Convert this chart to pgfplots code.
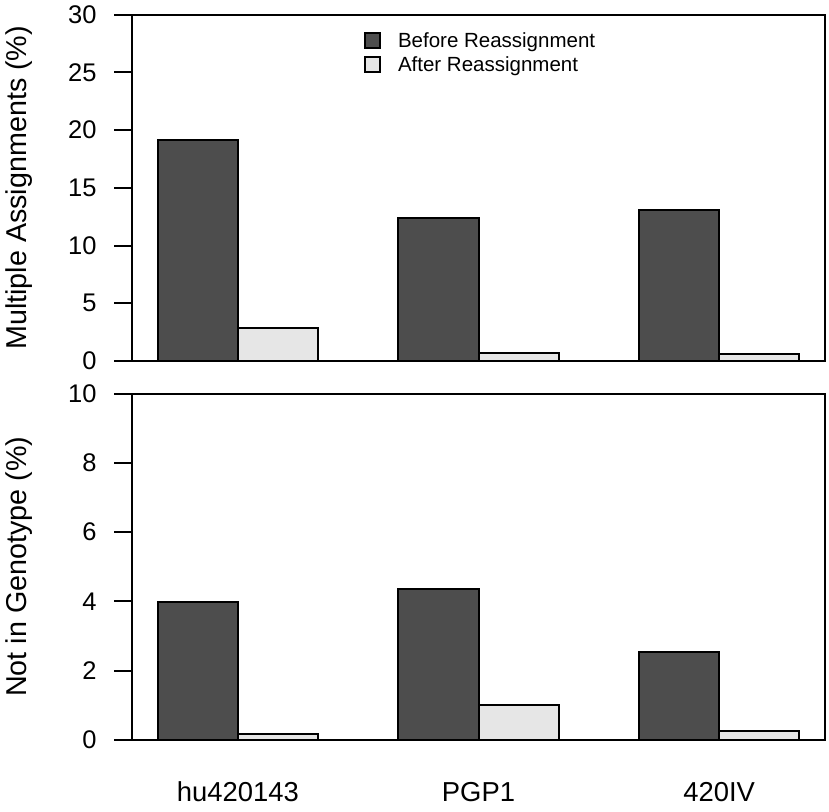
\documentclass[border=0pt]{standalone}
\usepackage{pgfplots}
\pgfplotsset{compat=1.18}
\usepackage{fontspec}
\setmainfont{Liberation Sans}
\definecolor{darkbar}{RGB}{77,77,77}
\definecolor{lightbar}{RGB}{230,230,230}
\pgfplotsset{
  myaxis/.style={
    scale only axis, width=693pt, height=346.3pt,
    anchor=south west,
    xmin=0.68, xmax=9.32,
    axis line style={line width=2pt},
    every tick/.style={black, line width=2pt},
    tick align=outside, major tick length=18pt,
    ytick pos=left,
    xtick={2,5,8}, xtick style={draw=none},
    /pgf/number format/assume math mode=true,
    yticklabel style={font=\fontsize{25.5}{25.5}\selectfont, anchor=east, inner sep=0pt, xshift=-17.3pt},
    xticklabel style={font=\fontsize{27.4}{27.4}\selectfont, anchor=base, inner sep=0pt, yshift=-43.7pt},
    label style={font=\fontsize{28.7}{28.7}\selectfont},
    ylabel style={at={(axis description cs:-0.152,0.5)}, anchor=base},
  },
  mybar/.style={ybar, bar width=1, bar shift=0pt, draw=black, line width=2pt,
    legend image code/.code={\draw[##1, line width=1.6pt] (0pt,-6pt) rectangle (15pt,9pt); \path[draw=none,fill=none] (0pt,0pt) -- (33pt,0pt);}},
}
\begin{document}
\begin{tikzpicture}
\path[use as bounding box] (0,0) rectangle (829pt,811pt);
\begin{axis}[myaxis, at={(132pt,450pt)},
  ymin=0, ymax=30, ytick={0,5,10,15,20,25,30},
  xticklabels={},
  ylabel={Multiple Assignments (\%)},
  legend style={at={(axis description cs:0.3348,0.950)}, anchor=north west,
    draw=none, fill=none, inner sep=0pt,
    font=\fontsize{20.5}{24}\selectfont,
    nodes={inner sep=0pt, text height=15pt, text depth=5pt},
    row sep=4pt},
  legend cell align=left]
\addplot[mybar, fill=darkbar] coordinates {(1.5,19.13) (4.5,12.35) (7.5,13.04)};
\addlegendentry{Before Reassignment}
\addplot[mybar, fill=lightbar] coordinates {(2.5,2.85) (5.5,0.70) (8.5,0.60)};
\addlegendentry{After Reassignment}
\end{axis}
\begin{axis}[myaxis, at={(132pt,71pt)},
  ymin=0, ymax=10, ytick={0,2,4,6,8,10},
  xticklabels={hu420143, PGP1, 420IV},
  ylabel={Not in Genotype (\%)}]
\addplot[mybar, fill=darkbar] coordinates {(1.5,3.98) (4.5,4.35) (7.5,2.55)};
\addplot[mybar, fill=lightbar] coordinates {(2.5,0.17) (5.5,1.01) (8.5,0.25)};
\end{axis}
\end{tikzpicture}
\end{document}
